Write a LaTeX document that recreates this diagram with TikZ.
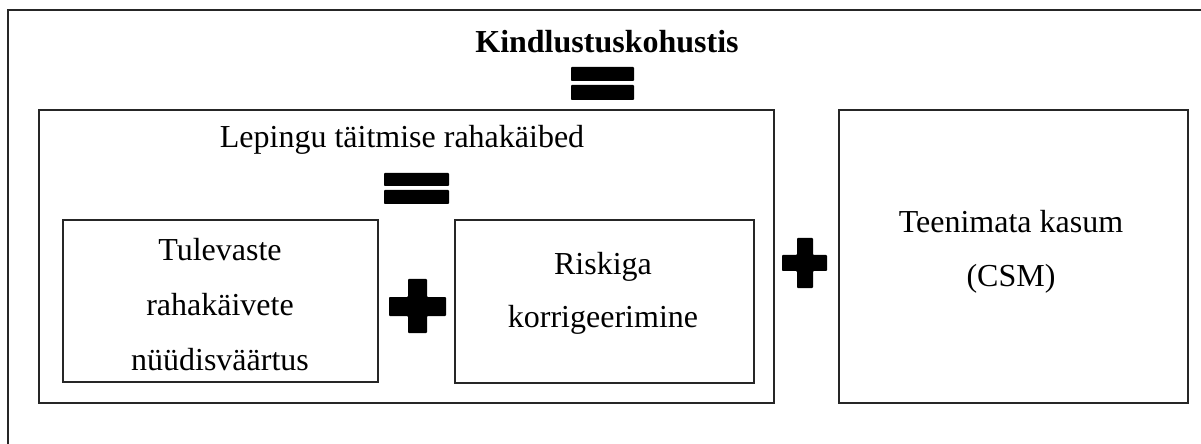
\documentclass[tikz,border=0pt]{standalone}
\usepackage{fontspec}
\setmainfont{Liberation Serif}
\begin{document}
\begin{tikzpicture}[x=0.5pt,y=-0.5pt,
  frame/.style={draw=black!85,line width=0.8pt},
  boxnode/.style={frame,rectangle,inner sep=0pt,anchor=north west},
  lbl/.style={anchor=base,inner sep=0pt,font=\fontsize{16}{19}\selectfont},
  blbl/.style={lbl,font=\fontsize{16}{19}\selectfont\bfseries},
  sym/.style={fill=black,rounded corners=0.4pt}]
\useasboundingbox (0,0) rectangle (1201,444);
\fill[white] (0,0) rectangle (1201,444);
% outer frame (cropped at right and bottom)
\coordinate (oTL) at (8,10);
\coordinate (oTR) at (1201,10);
\coordinate (oBL) at (8,444);
\draw[frame] (oBL) -- (oTL) -- (oTR);
% boxes
\node[boxnode,minimum width=367.5pt,minimum height=146.5pt] (big) at (38,109) {};
\node[boxnode,minimum width=157.5pt,minimum height=81pt] (pv) at (62,219) {};
\node[boxnode,minimum width=149.5pt,minimum height=81.5pt] (ra) at (454,219) {};
\node[boxnode,minimum width=174.5pt,minimum height=146.5pt] (csm) at (838,109) {};
% texts
\node[blbl] (title) at (607,53) {Kindlustuskohustis};
\node[lbl] (fcf) at (402,148) {Lepingu täitmise rahakäibed};
\node[lbl] (pv1) at (220,261) {Tulevaste};
\node[lbl] (pv2) at (220,315) {rahakäivete};
\node[lbl] (pv3) at (220,370) {nüüdisväärtus};
\node[lbl] (ra1) at (603,274) {Riskiga};
\node[lbl] (ra2) at (603,328) {korrigeerimine};
\node[lbl] (csm1) at (1011,233) {Teenimata kasum};
\node[lbl] (csm2) at (1011,286) {(CSM)};
% equal signs
\fill[sym] (571,67) rectangle (634,81);
\fill[sym] (571,85) rectangle (634,100);
\fill[sym] (384,173) rectangle (449,186);
\fill[sym] (384,190) rectangle (449,204);
% plus signs
\fill[sym] (408,279) -- (427,279) -- (427,297) -- (446,297) -- (446,316) -- (427,316)
  -- (427,333) -- (408,333) -- (408,316) -- (389,316) -- (389,297) -- (408,297) -- cycle;
\fill[sym] (797,238) -- (813,238) -- (813,255) -- (827,255) -- (827,271) -- (813,271)
  -- (813,288) -- (797,288) -- (797,271) -- (782,271) -- (782,255) -- (797,255) -- cycle;
\end{tikzpicture}
\end{document}
